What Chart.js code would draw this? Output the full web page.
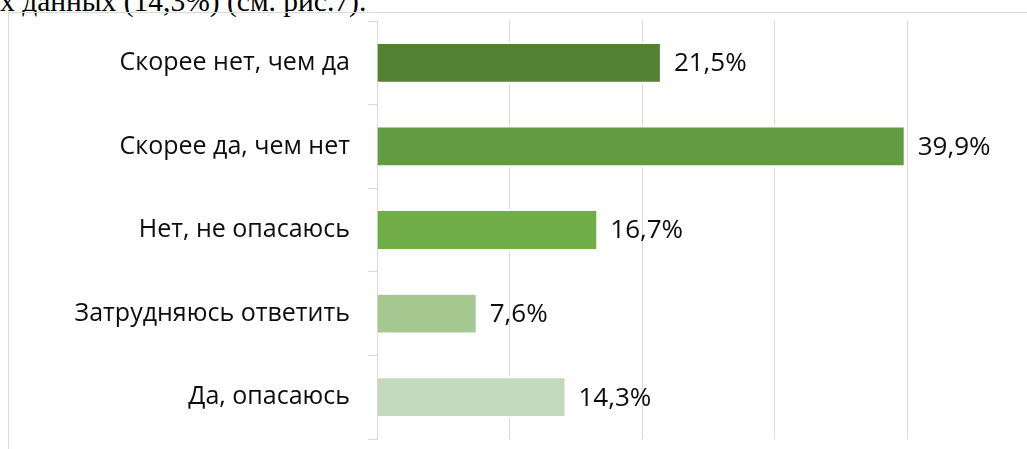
<!DOCTYPE html>
<html>
<head>
<meta charset="utf-8">
<script src="https://cdn.jsdelivr.net/npm/chart.js@4"></script>
<style>
  html, body { margin: 0; padding: 0; background: #fff; width: 1027px; height: 449px; overflow: hidden; }
  #caption { position: absolute; left: 0; top: -13px; font-family: "Liberation Serif", serif; font-size: 29.5px; line-height: 29px; color: #000; white-space: nowrap; }
  #frame { position: absolute; left: 8px; top: 12px; width: 1100px; height: 500px; border: 1px solid #d9d9d9; }
  #chart { position: absolute; left: 0; top: 0; }
</style>
</head>
<body>
<div id="caption">х данных (14,3%) (см. рис.7).</div>
<div id="frame"></div>
<canvas id="chart" width="1027" height="449"></canvas>
<script>
// Données du graphique
const categories = ['Скорее нет, чем да', 'Скорее да, чем нет', 'Нет, не опасаюсь', 'Затрудняюсь ответить', 'Да, опасаюсь'];
const values = [21.5, 39.9, 16.7, 7.6, 14.3];
const barColors = ['#548235', '#629B41', '#70AD47', '#A6C992', '#C5DABD'];
const axisMax = 40;
const axisStep = 10;

const fontFamily = '"Open Sans", "Noto Sans", sans-serif';

// Plugin pour écrire les valeurs au bout des barres
const valueLabels = {
    id: 'valueLabels',
    afterDatasetsDraw(chart) {
        const ctx = chart.ctx;
        const meta = chart.getDatasetMeta(0);
        ctx.save();
        ctx.font = '26px ' + fontFamily;
        ctx.fillStyle = '#0d0d0d';
        ctx.textAlign = 'left';
        ctx.textBaseline = 'middle';
        meta.data.forEach((bar, i) => {
            const txt = values[i].toFixed(1).replace('.', ',') + '%';
            ctx.fillText(txt, bar.x + 12, bar.y + 1);
        });
        ctx.restore();
    }
};

const ctx = document.getElementById('chart').getContext('2d');
new Chart(ctx, {
    type: 'bar',
    data: {
        labels: categories,
        datasets: [{
            data: values,
            backgroundColor: barColors,
            borderColor: '#ffffff',
            borderWidth: 2,
            barPercentage: 0.5,
            categoryPercentage: 1
        }]
    },
    options: {
        indexAxis: 'y',
        responsive: false,
        animation: false,
        layout: { padding: { top: 21, bottom: 10, left: 0, right: 120 } },
        plugins: {
            legend: { display: false },
            tooltip: { enabled: false }
        },
        scales: {
            x: {
                min: 0,
                max: axisMax,
                afterFit: (scale) => { scale.height = 0; scale.paddingLeft = 0; scale.paddingRight = 0; },
                ticks: { display: false, stepSize: axisStep },
                grid: { color: '#d9d9d9', lineWidth: 1, drawTicks: false },
                border: { display: false }
            },
            y: {
                z: 1,
                afterFit: (scale) => { scale.width = 377; scale.paddingTop = 0; scale.paddingBottom = 0; },
                ticks: { color: '#0d0d0d', font: { family: fontFamily, size: 25 }, padding: 18 },
                grid: { drawOnChartArea: false, color: '#d9d9d9', tickLength: 9 },
                border: { color: '#d9d9d9' }
            }
        }
    },
    plugins: [valueLabels]
});
</script>
</body>
</html>
